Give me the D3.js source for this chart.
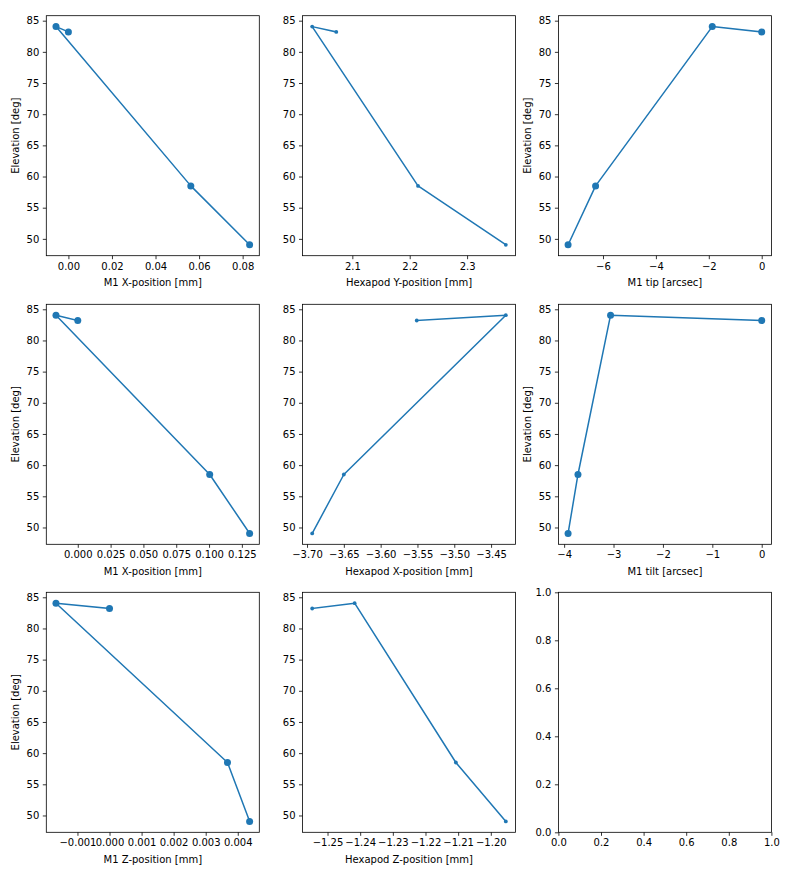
<!DOCTYPE html>
<html>
<head>
<meta charset="utf-8">
<script src="https://cdn.jsdelivr.net/npm/d3@7"></script>
<style>
  html, body { margin: 0; padding: 0; background: #ffffff; }
  svg { display: block; }
  text { font-family: "DejaVu Sans", sans-serif; }
</style>
</head>
<body>
<svg id="chart" width="789" height="871"></svg>
<script>
// ---- data ----
const elevation = [83.2, 84.05, 58.5, 49.05];

const m1XPosA   = [0.0, -0.0057, 0.0562, 0.0832];
const hexYPos   = [2.072, 2.030, 2.2145, 2.3675];
const m1Tip     = [0.0, -1.87, -6.28, -7.32];
const m1XPosB   = [0.0, -0.0166, 0.1005, 0.1309];
const hexXPos   = [-3.551, -3.430, -3.650, -3.693];
const m1Tilt    = [0.0, -3.06, -3.72, -3.92];
const m1ZPos    = [0.0, -0.00167, 0.00368, 0.00437];
const hexZPos   = [-1.2547, -1.2417, -1.2107, -1.1954];

const elevTicks  = [50, 55, 60, 65, 70, 75, 80, 85];
const ticksM1XA  = [0.00, 0.02, 0.04, 0.06, 0.08];
const ticksHexY  = [2.1, 2.2, 2.3];
const ticksTip   = [-6, -4, -2, 0];
const ticksM1XB  = [0.000, 0.025, 0.050, 0.075, 0.100, 0.125];
const ticksHexX  = [-3.70, -3.65, -3.60, -3.55, -3.50, -3.45];
const ticksTilt  = [-4, -3, -2, -1, 0];
const ticksM1Z   = [-0.001, 0.000, 0.001, 0.002, 0.003, 0.004];
const ticksHexZ  = [-1.25, -1.24, -1.23, -1.22, -1.21, -1.20];
const unitTicks  = [0.0, 0.2, 0.4, 0.6, 0.8, 1.0];

// ---- layout ----
const colLeft = [46.3, 302.5, 558.4];
const rowTop = [15.7, 304.3, 592.3];
const axW = 213, axH = 240;
const blue = "#1f77b4";
const minus = s => s.replace(/-/g, "\u2212");

const panels = [
  {x: m1XPosA, xt: ticksM1XA, dec: 2, xl: "M1 X-position [mm]", yl: true, big: true},
  {x: hexYPos, xt: ticksHexY, dec: 1, xl: "Hexapod Y-position [mm]", yl: false, big: false},
  {x: m1Tip, xt: ticksTip, dec: 0, xl: "M1 tip [arcsec]", yl: true, big: true},
  {x: m1XPosB, xt: ticksM1XB, dec: 3, xl: "M1 X-position [mm]", yl: true, big: true},
  {x: hexXPos, xt: ticksHexX, dec: 2, xl: "Hexapod X-position [mm]", yl: false, big: false},
  {x: m1Tilt, xt: ticksTilt, dec: 0, xl: "M1 tilt [arcsec]", yl: true, big: true},
  {x: m1ZPos, xt: ticksM1Z, dec: 3, xl: "M1 Z-position [mm]", yl: true, big: true},
  {x: hexZPos, xt: ticksHexZ, dec: 2, xl: "Hexapod Z-position [mm]", yl: false, big: false},
  null
];

const svg = d3.select("#chart");
svg.append("rect").attr("width", 789).attr("height", 871).attr("fill", "#fff");

function padDomain(vals) {
  const [lo, hi] = d3.extent(vals);
  const m = (hi - lo) * 0.05;
  return [lo - m, hi + m];
}

function styleAxis(g) {
  g.select(".domain").remove();
  g.selectAll(".tick line").attr("stroke", "#000").attr("stroke-width", 0.8);
  g.selectAll(".tick text").attr("fill", "#000").attr("font-size", "10px")
    .attr("font-family", "DejaVu Sans, sans-serif");
}

panels.forEach((p, i) => {
  const r = Math.floor(i / 3), c = i % 3;
  const g = svg.append("g").attr("transform", `translate(${colLeft[c]},${rowTop[r]})`);

  let x, y, xt, yt, xfmt, yfmt;
  if (p) {
    x = d3.scaleLinear().domain(padDomain(p.x)).range([0, axW]);
    y = d3.scaleLinear().domain(padDomain(elevation)).range([axH, 0]);
    xt = p.xt; yt = elevTicks;
    xfmt = d => minus(d3.format(`.${p.dec}f`)(d));
    yfmt = d => minus(d3.format("d")(d));
  } else {
    x = d3.scaleLinear().domain([0, 1]).range([0, axW]);
    y = d3.scaleLinear().domain([0, 1]).range([axH, 0]);
    xt = unitTicks; yt = unitTicks;
    xfmt = d => d3.format(".1f")(d);
    yfmt = d => d3.format(".1f")(d);
  }

  const xa = g.append("g").attr("transform", `translate(0,${axH})`)
    .call(d3.axisBottom(x).tickValues(xt).tickFormat(xfmt).tickSize(3.5).tickPadding(3.5));
  styleAxis(xa);
  const ya = g.append("g")
    .call(d3.axisLeft(y).tickValues(yt).tickFormat(yfmt).tickSize(3.5).tickPadding(3.5));
  styleAxis(ya);

  if (p) {
    const pts = p.x.map((v, k) => [v, elevation[k]]);
    g.append("path")
      .attr("d", d3.line().x(d => x(d[0])).y(d => y(d[1]))(pts))
      .attr("fill", "none").attr("stroke", blue).attr("stroke-width", 1.5)
      .attr("stroke-linejoin", "round").attr("stroke-linecap", "square");
    g.selectAll("circle.pt").data(pts).enter().append("circle")
      .attr("cx", d => x(d[0])).attr("cy", d => y(d[1]))
      .attr("r", p.big ? 3.5 : 1.9).attr("fill", blue);

    g.append("text")
      .attr("x", axW / 2).attr("y", axH + 30.5)
      .attr("text-anchor", "middle").attr("font-size", "10px").attr("fill", "#000")
      .text(p.xl);
    if (p.yl) {
      g.append("text")
        .attr("transform", `translate(${-27},${axH / 2}) rotate(-90)`)
        .attr("text-anchor", "middle").attr("font-size", "10px").attr("fill", "#000")
        .text("Elevation [deg]");
    }
  }

  g.append("rect").attr("width", axW).attr("height", axH)
    .attr("fill", "none").attr("stroke", "#000").attr("stroke-width", 0.8);
});
</script>
</body>
</html>
